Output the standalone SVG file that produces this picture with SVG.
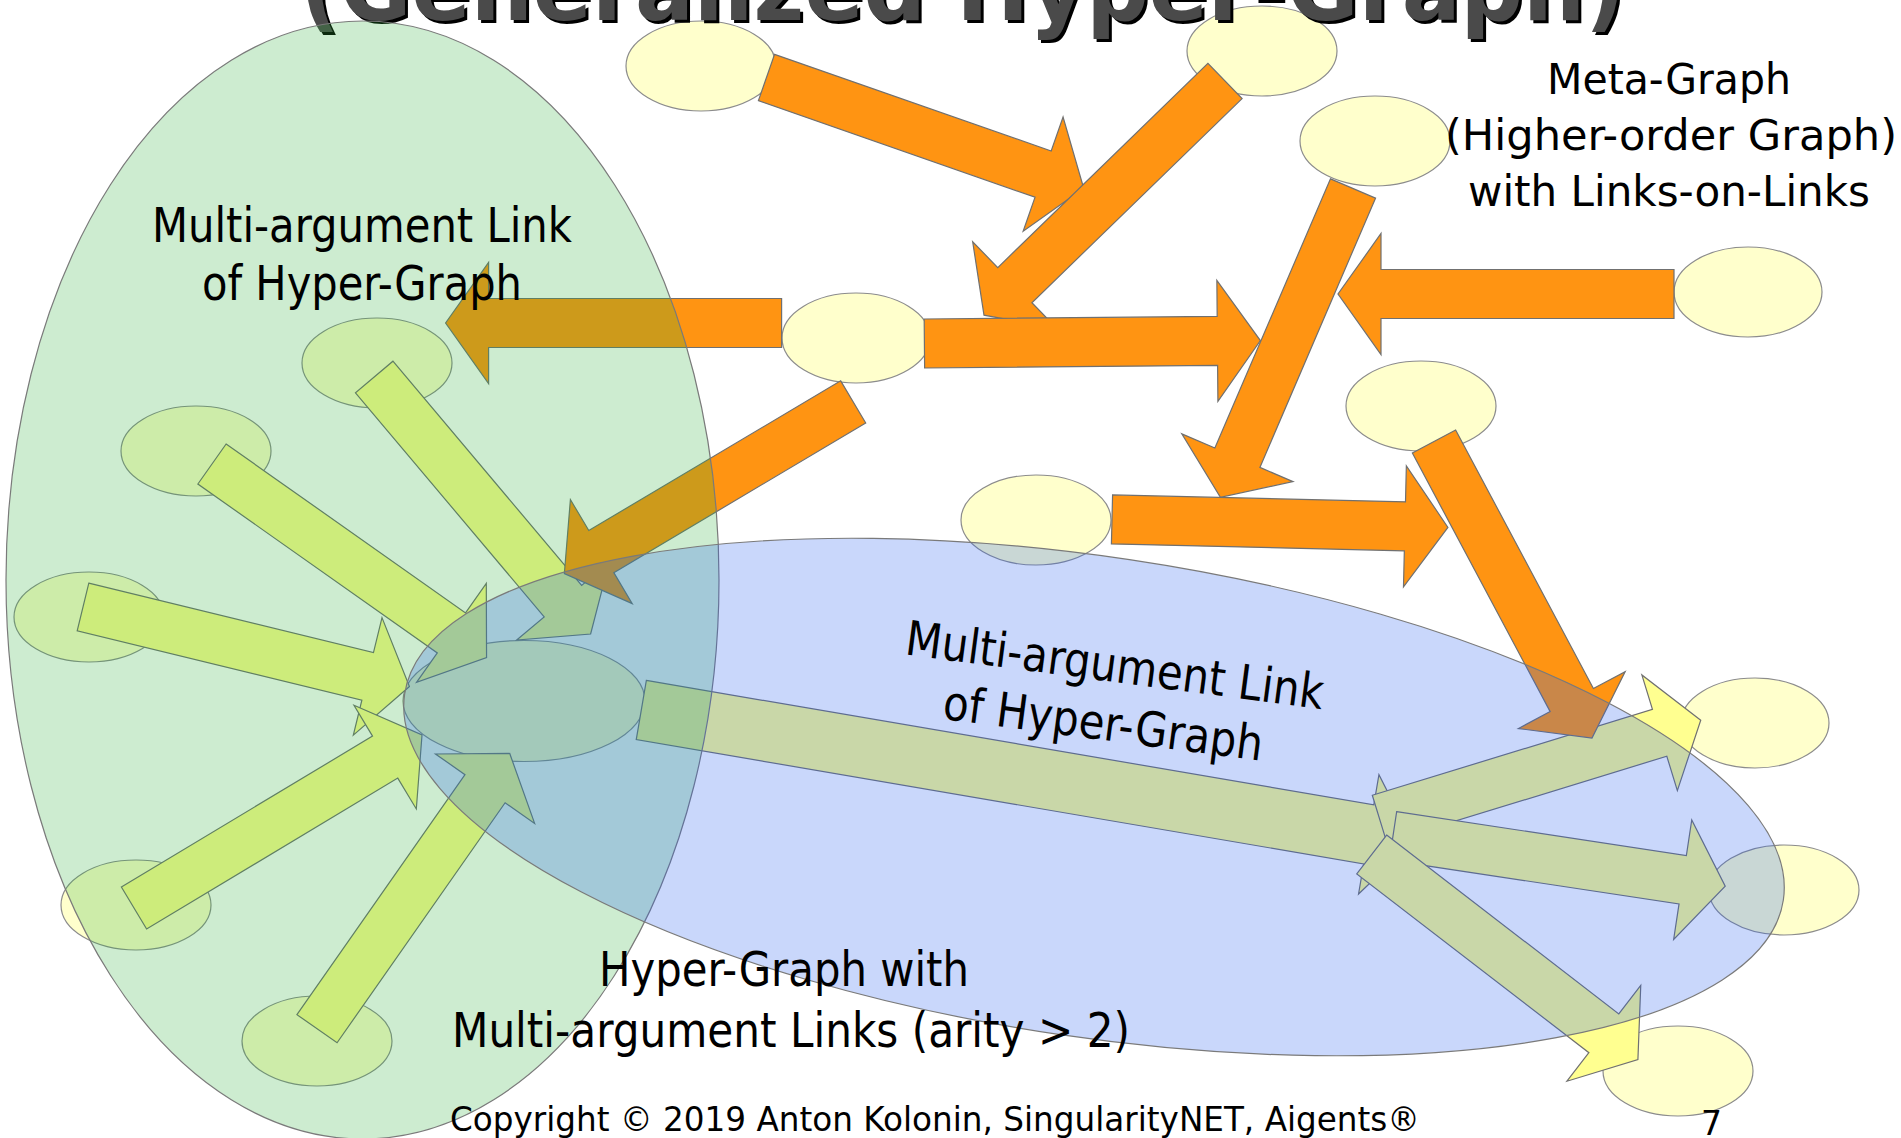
<svg xmlns="http://www.w3.org/2000/svg" xmlns:xlink="http://www.w3.org/1999/xlink" width="1901" height="1138" viewBox="0 0 1901 1138">
<style>
.node{fill:#ffffcc;stroke:#8c8c8c;stroke-width:1.2}
.org{fill:#ff9412;stroke:#707070;stroke-width:1.2}
.yel{fill:#ffff90;stroke:#707070;stroke-width:1.2}
.lbl{font-family:'DejaVu Sans',Verdana,sans-serif;fill:#000;text-anchor:middle}
</style>
<defs>
<polygon id="arr" points="0,-24.5 293,-24.5 293,-60.5 336,0 293,60.5 293,24.5 0,24.5"/>
<polygon id="arrLong" points="0,-30 738,-30 738,-60.5 783,0 738,60.5 738,30 0,30"/>
</defs>
<rect width="1901" height="1138" fill="#ffffff"/>
<g id="nodes">
<g id="n1"><ellipse class="node" cx="701" cy="66" rx="75" ry="45"/></g>
<g id="n2"><ellipse class="node" cx="1262" cy="51" rx="75" ry="45"/></g>
<g id="n3"><ellipse class="node" cx="1375" cy="141" rx="75" ry="45"/></g>
<g id="n4"><ellipse class="node" cx="1748" cy="292" rx="74" ry="45"/></g>
<g id="n5"><ellipse class="node" cx="856" cy="338" rx="74" ry="45"/></g>
<g id="n6"><ellipse class="node" cx="1421" cy="406" rx="75" ry="45"/></g>
<g id="n7"><ellipse class="node" cx="1036" cy="520" rx="75" ry="45"/></g>
<g id="n8"><ellipse class="node" cx="1755" cy="723" rx="74" ry="45"/></g>
<g id="n9"><ellipse class="node" cx="1784" cy="890" rx="75" ry="45"/></g>
<g id="n10"><ellipse class="node" cx="1678" cy="1071" rx="75" ry="45"/></g>
<g id="g1"><ellipse class="node" cx="377" cy="363" rx="75" ry="45"/></g>
<g id="g2"><ellipse class="node" cx="196" cy="451" rx="75" ry="45"/></g>
<g id="g3"><ellipse class="node" cx="89" cy="617" rx="75" ry="45"/></g>
<g id="g4"><ellipse class="node" cx="136" cy="905" rx="75" ry="45"/></g>
<g id="g5"><ellipse class="node" cx="317" cy="1041" rx="75" ry="45"/></g>
<g id="hub"><ellipse class="node" cx="524" cy="701" rx="121" ry="60.5"/></g>
</g>
<g id="connectors">
<use xlink:href="#arr" class="yel" transform="translate(374.2 377) rotate(49.9)"/>
<use xlink:href="#arr" class="yel" transform="translate(212 464) rotate(35.2)"/>
<use xlink:href="#arr" class="yel" transform="translate(83 607) rotate(13.7)"/>
<use xlink:href="#arr" class="yel" transform="translate(134 908) rotate(-31)"/>
<use xlink:href="#arr" class="yel" transform="translate(317 1028.7) rotate(-55)"/>
<use xlink:href="#arrLong" class="yel" transform="translate(641.3 710) rotate(9.7)"/>
<use xlink:href="#arr" class="yel" transform="translate(1379.5 818.7) rotate(-17.05)"/>
<use xlink:href="#arr" class="yel" transform="translate(1393 835.9) rotate(8.6)"/>
<use xlink:href="#arr" class="yel" transform="translate(1371.7 854.5) rotate(37.6)"/>
<use xlink:href="#arr" class="org" transform="translate(766.5 77.5) rotate(19.25)"/>
<use xlink:href="#arr" class="org" transform="translate(1225 81) rotate(135.83)"/>
<use xlink:href="#arr" class="org" transform="translate(924.4 343.5) rotate(-0.5)"/>
<use xlink:href="#arr" class="org" transform="translate(1674 294) rotate(180)"/>
<use xlink:href="#arr" class="org" transform="translate(1353 188.5) rotate(113.24)"/>
<use xlink:href="#arr" class="org" transform="translate(1112 519.4) rotate(1.36)"/>
<use xlink:href="#arr" class="org" transform="translate(1434 441.5) rotate(61.95)"/>
<use xlink:href="#arr" class="org" transform="translate(781.6 323) rotate(180)"/>
<use xlink:href="#arr" class="org" transform="translate(853.2 401.9) rotate(149.28)"/>
</g>
<g id="title" font-family="'DejaVu Sans',Verdana,sans-serif" font-weight="bold" font-size="90">
<text x="303" y="23" fill="#000000" textLength="1325" lengthAdjust="spacingAndGlyphs">(Generalized Hyper-Graph)</text>
<text x="300" y="20" fill="#4a4a4a" textLength="1325" lengthAdjust="spacingAndGlyphs">(Generalized Hyper-Graph)</text>
</g>
<g id="regions">
<g id="hypergraph-link"><ellipse cx="362.5" cy="580" rx="356.5" ry="559" fill="rgb(47,176,59)" fill-opacity="0.24" stroke="#7a7a7a" stroke-width="1.2"/></g>
<g id="hypergraph"><ellipse cx="0" cy="0" rx="697" ry="240" transform="translate(1094 797) rotate(8.5)" fill="rgb(40,95,240)" fill-opacity="0.25" stroke="#7a7a7a" stroke-width="1.2"/></g>
</g>
<g id="labels">
<text class="lbl" x="362" y="242" font-size="48" textLength="420" lengthAdjust="spacingAndGlyphs">Multi-argument Link</text>
<text class="lbl" x="362" y="300" font-size="48" textLength="320" lengthAdjust="spacingAndGlyphs">of Hyper-Graph</text>
<text class="lbl" x="1669" y="94" font-size="42" textLength="244" lengthAdjust="spacingAndGlyphs">Meta-Graph</text>
<text class="lbl" x="1671" y="150" font-size="42" textLength="452" lengthAdjust="spacingAndGlyphs">(Higher-order Graph)</text>
<text class="lbl" x="1669" y="206" font-size="42" textLength="402" lengthAdjust="spacingAndGlyphs">with Links-on-Links</text>
<g transform="translate(1112.8 681.7) rotate(7.5)">
<text class="lbl" x="0" y="0" font-size="48" textLength="421" lengthAdjust="spacingAndGlyphs">Multi-argument Link</text>
<text class="lbl" x="-4" y="59" font-size="48" textLength="322" lengthAdjust="spacingAndGlyphs">of Hyper-Graph</text>
</g>
<text class="lbl" x="784" y="986" font-size="48" textLength="370" lengthAdjust="spacingAndGlyphs">Hyper-Graph with</text>
<text class="lbl" x="791" y="1047" font-size="48" textLength="678" lengthAdjust="spacingAndGlyphs">Multi-argument Links (arity &gt; 2)</text>
<text x="450" y="1131" font-family="'DejaVu Sans',Verdana,sans-serif" font-size="33" fill="#000" textLength="970" lengthAdjust="spacingAndGlyphs">Copyright © 2019 Anton Kolonin, SingularityNET, Aigents®</text>
<text x="1701" y="1135" font-family="'DejaVu Sans',Verdana,sans-serif" font-size="33" fill="#000">7</text>
</g>
</svg>
